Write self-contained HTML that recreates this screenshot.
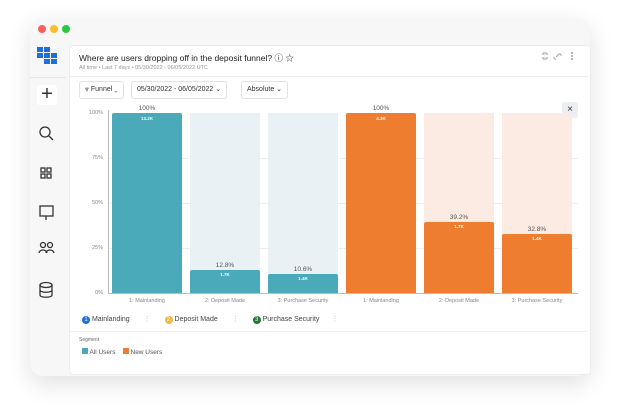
<!DOCTYPE html>
<html><head><style>
body{margin:0;width:620px;height:416px;background:#fff;font-family:"Liberation Sans",sans-serif;position:relative;overflow:hidden}
.a{position:absolute}
.win{left:30px;top:18px;width:560px;height:358px;background:#f7f7f8;border-radius:12px;box-shadow:0 8px 24px rgba(0,0,0,.12)}
.dot{width:8px;height:8px;border-radius:50%;top:25px}
.card{left:69px;top:45px;width:520px;height:328px;background:#fff;border:1px solid #ececee;border-radius:4px}
.t{font-size:8px;color:#333}
.btn{top:81px;height:16px;border:1px solid #e3e3e6;border-radius:3px;font-size:7px;color:#333;line-height:16px;padding:0 5px;background:#fff;white-space:nowrap}
.bg{top:113px;height:180px;width:70px}
.yl{font-size:5.5px;color:#888;width:24px;text-align:right;left:79px}
.xl{font-size:5.5px;color:#888;width:90px;text-align:center;top:298px}
.pl{font-size:6.5px;color:#555;width:70px;text-align:center}
.vl{font-size:4.5px;color:#fff;width:70px;text-align:center;font-weight:bold}
.grid{left:108px;width:470px;height:1px;background:#eee}
</style></head><body>
<div class="a win"></div>
<div class="a dot" style="left:38px;background:#fe5f57"></div>
<div class="a dot" style="left:50px;background:#febc2e"></div>
<div class="a dot" style="left:62px;background:#28c840"></div>
<div class="a" style="left:30px;top:77px;width:36px;height:1px;background:#e6e6e8"></div>
<svg class="a" style="left:37px;top:47px" width="22" height="22">
<g fill="#1e6fd9"><rect x="0" y="0" width="6" height="5"/><rect x="7" y="0" width="6" height="5"/><rect x="0" y="6" width="6" height="5"/><rect x="7" y="6" width="6" height="5"/><rect x="14" y="6" width="6" height="5"/><rect x="7" y="12" width="6" height="5"/><rect x="14" y="12" width="6" height="5"/></g></svg>
<div class="a" style="left:37px;top:85px;width:20px;height:20px;background:#fff;border-radius:3px;font-size:20px;line-height:19px;text-align:center;color:#333">+</div>
<svg class="a" style="left:38px;top:125px" width="18" height="180" fill="none" stroke="#333" stroke-width="1.3">
<circle cx="7" cy="7" r="5"/><line x1="11" y1="11" x2="15" y2="15"/>
<rect x="3" y="43" width="4" height="4"/><rect x="9" y="43" width="4" height="4"/><rect x="3" y="49" width="4" height="4"/><rect x="9" y="49" width="4" height="4"/>
<rect x="2" y="81" width="13" height="10"/><line x1="8" y1="91" x2="8" y2="95"/>
<circle cx="5" cy="120" r="2.5"/><circle cx="12" cy="120" r="2.5"/><path d="M1 128c1-4 7-4 8 0M8 128c1-4 7-4 8 0"/>
<ellipse cx="8" cy="160" rx="6" ry="2.5"/><path d="M2 160v10c0 3 12 3 12 0v-10M2 165c0 3 12 3 12 0"/>
</svg>
<div class="a card"></div>
<div class="a t" style="left:79px;top:52px;font-size:8.5px;color:#222">Where are users dropping off in the deposit funnel? ⓘ ☆</div>
<div class="a" style="left:79px;top:65px;font-size:5.5px;color:#999">All time • Last 7 days • 05/30/2022 - 06/05/2022 UTC</div>
<svg class="a" style="left:541px;top:51px" width="36" height="10" fill="none" stroke="#999" stroke-width="0.9">
<path d="M1 3h2V1M5 1v2h2M1 7h2v2M5 9V7h2"/>
<path d="M15 6l3-3M13 6a1.5 1.5 0 0 0 2 2M18 3a1.5 1.5 0 0 1 2 2"/>
<circle cx="31" cy="2" r=".5"/><circle cx="31" cy="5" r=".5"/><circle cx="31" cy="8" r=".5"/></svg>
<div class="a" style="left:70px;top:76px;width:518px;height:1px;background:#ececee"></div>
<div class="a btn" style="left:79px">⩔ Funnel ⌄</div>
<div class="a btn" style="left:131px">05/30/2022 - 06/05/2022 ⌄</div>
<div class="a btn" style="left:241px">Absolute ⌄</div>
<div class="a" style="left:562px;top:102px;width:16px;height:16px;background:#eceef2;border-radius:3px;font-size:10px;text-align:center;line-height:16px;color:#333">×</div>
<div class="a grid" style="top:158px"></div><div class="a grid" style="top:203px"></div><div class="a grid" style="top:248px"></div>
<div class="a yl" style="top:110px">100%</div><div class="a yl" style="top:155px">75%</div><div class="a yl" style="top:200px">50%</div><div class="a yl" style="top:245px">25%</div><div class="a yl" style="top:290px">0%</div>
<div class="a bg" style="left:190px;background:#eaf1f4"></div>
<div class="a bg" style="left:268px;background:#eaf1f4"></div>
<div class="a bg" style="left:424px;background:#fcebe2"></div>
<div class="a bg" style="left:502px;background:#fcebe2"></div>
<div class="a" style="left:112px;top:113px;width:70px;height:180px;background:#4aaab9;border-radius:2px 2px 0 0"></div>
<div class="a" style="left:190px;top:270px;width:70px;height:23px;background:#4aaab9;border-radius:2px 2px 0 0"></div>
<div class="a" style="left:268px;top:274px;width:70px;height:19px;background:#4aaab9;border-radius:2px 2px 0 0"></div>
<div class="a" style="left:346px;top:113px;width:70px;height:180px;background:#ee7d2f;border-radius:2px 2px 0 0"></div>
<div class="a" style="left:424px;top:222px;width:70px;height:71px;background:#ee7d2f;border-radius:2px 2px 0 0"></div>
<div class="a" style="left:502px;top:234px;width:70px;height:59px;background:#ee7d2f;border-radius:2px 2px 0 0"></div>
<div class="a" style="left:108px;top:110px;width:1px;height:184px;background:#bbb"></div>
<div class="a" style="left:108px;top:293px;width:470px;height:1px;background:#bbb"></div>
<div class="a pl" style="left:112px;top:105px">100%</div><div class="a vl" style="left:112px;top:116px">13.2K</div>
<div class="a pl" style="left:190px;top:262px">12.8%</div><div class="a vl" style="left:190px;top:272px">1.7K</div>
<div class="a pl" style="left:268px;top:266px">10.6%</div><div class="a vl" style="left:268px;top:276px">1.4K</div>
<div class="a pl" style="left:346px;top:105px">100%</div><div class="a vl" style="left:346px;top:116px">4.3K</div>
<div class="a pl" style="left:424px;top:214px">39.2%</div><div class="a vl" style="left:424px;top:224px">1.7K</div>
<div class="a pl" style="left:502px;top:226px">32.8%</div><div class="a vl" style="left:502px;top:236px">1.4K</div>
<div class="a xl" style="left:102px">1: Mainlanding</div><div class="a xl" style="left:180px">2: Deposit Made</div><div class="a xl" style="left:258px">3: Purchase Security</div>
<div class="a xl" style="left:336px">1: Mainlanding</div><div class="a xl" style="left:414px">2: Deposit Made</div><div class="a xl" style="left:492px">3: Purchase Security</div>
<div class="a" style="left:82px;top:315px;font-size:7px;color:#444;white-space:nowrap">
<span style="display:inline-block;width:8px;height:8px;border-radius:50%;background:#1e6fd9;color:#fff;font-size:6px;text-align:center;line-height:8px">1</span> Mainlanding <span style="color:#bbb;margin:0 12px">⋮</span>
<span style="display:inline-block;width:8px;height:8px;border-radius:50%;background:#f6b740;color:#fff;font-size:6px;text-align:center;line-height:8px">2</span> Deposit Made <span style="color:#bbb;margin:0 12px">⋮</span>
<span style="display:inline-block;width:8px;height:8px;border-radius:50%;background:#1d7a35;color:#fff;font-size:6px;text-align:center;line-height:8px">3</span> Purchase Security <span style="color:#bbb;margin:0 10px">⋮</span></div>
<div class="a" style="left:70px;top:331px;width:518px;height:1px;background:#f0f0f2"></div>
<div class="a" style="left:79px;top:337px;font-size:5px;color:#666">Segment</div>
<div class="a" style="left:82px;top:348px;font-size:6.5px;color:#555;white-space:nowrap"><span style="display:inline-block;width:6px;height:6px;background:#4aaab9"></span> All Users &nbsp;&nbsp;&nbsp;<span style="display:inline-block;width:6px;height:6px;background:#ee7d2f"></span> New Users</div>
</body></html>
